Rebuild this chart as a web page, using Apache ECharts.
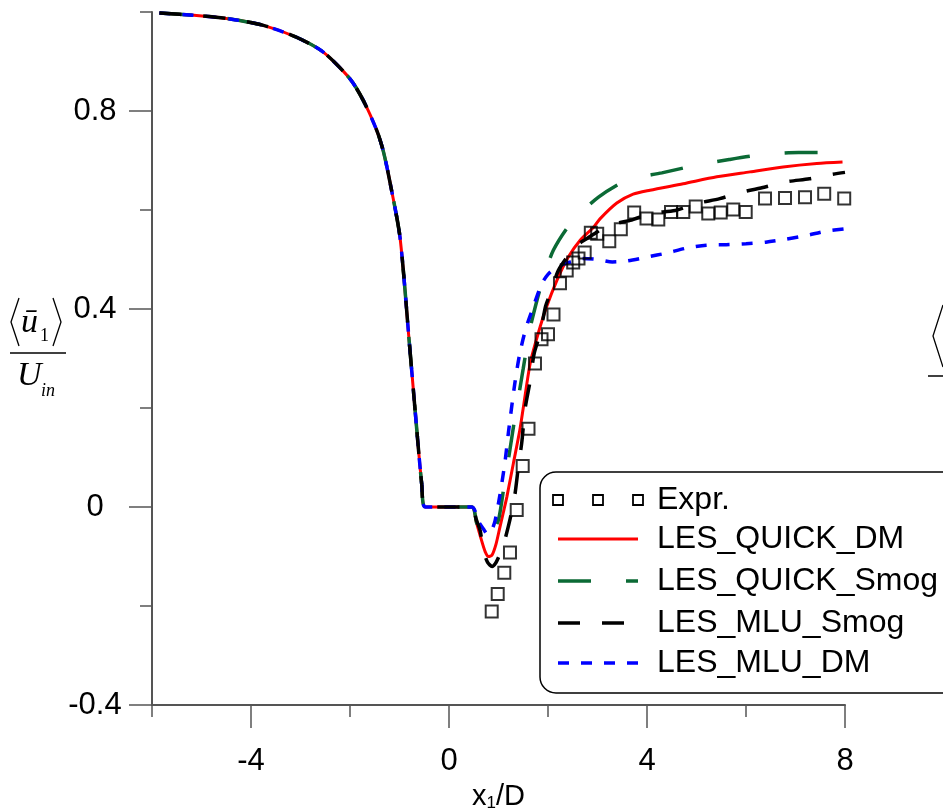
<!DOCTYPE html>
<html>
<head>
<meta charset="utf-8">
<script src="https://cdn.jsdelivr.net/npm/echarts@6/dist/echarts.min.js"></script>
<style>
html,body{margin:0;padding:0;background:#fff;}
#chart{width:943px;height:812px;}
</style>
</head>
<body>
<div id="chart"></div>
<script>
// ---- data ----
// shared upstream part (all LES runs coincide)
const upX = [-5.85,-5.1,-4.42,-3.75,-3.08,-2.54,-2.0,-1.73,-1.46,-1.33,-1.2,-0.99,-0.8,-0.65,-0.55,-0.48,0.46];
const upY = [0.998,0.993,0.986,0.973,0.949,0.919,0.865,0.821,0.761,0.72,0.66,0.545,0.33,0.155,0.045,0.0,0.0];

const quickDmX = [0.55,0.65,0.73,0.8,0.87,0.95,1.03,1.1,1.17,1.3,1.43,1.5,1.64,1.8,1.97,2.18,2.41,2.65,2.92,3.05,3.39,3.72,4.06,4.73,5.41,6.08,6.75,7.43,7.95];
const quickDmY = [-0.03,-0.065,-0.09,-0.1,-0.097,-0.075,-0.04,-0.01,0.021,0.088,0.155,0.2,0.29,0.35,0.404,0.458,0.505,0.539,0.565,0.582,0.614,0.632,0.64,0.653,0.667,0.677,0.687,0.694,0.697];

const quickSmogX = [0.56,0.69,0.78,0.88,1.0,1.1,1.23,1.33,1.4,1.5,1.6,1.67,1.87,2.11,2.48,3.02,3.59,4.3,4.97,5.66,6.35,7.06,7.74,8.0];
const quickSmogY = [-0.033,-0.06,-0.062,-0.05,-0.026,0.034,0.115,0.18,0.22,0.28,0.34,0.375,0.451,0.519,0.576,0.626,0.66,0.675,0.69,0.702,0.712,0.716,0.716,0.716];

const mluSmogX = [0.55,0.63,0.7,0.78,0.87,0.95,1.03,1.1,1.23,1.33,1.4,1.47,1.54,1.64,1.72,1.84,1.95,2.04,2.21,2.44,2.6,2.78,3.0,3.19,3.66,4.06,4.57,5.0,5.47,5.91,6.37,6.82,7.28,7.73,8.0];
const mluSmogY = [-0.025,-0.048,-0.09,-0.112,-0.12,-0.112,-0.095,-0.077,-0.026,0.024,0.08,0.13,0.2,0.255,0.31,0.35,0.405,0.43,0.478,0.512,0.53,0.542,0.556,0.569,0.579,0.593,0.599,0.613,0.623,0.636,0.646,0.657,0.663,0.672,0.676];

const mluDmX = [0.6,0.7,0.78,0.85,0.93,1.03,1.13,1.2,1.33,1.43,1.55,1.67,1.87,2.0,2.18,2.45,2.7,3.0,3.3,3.6,4.0,4.4,4.8,5.2,5.6,6.0,6.4,6.8,7.2,7.6,8.0];
const mluDmY = [-0.03,-0.045,-0.055,-0.05,-0.028,0.025,0.09,0.15,0.25,0.31,0.36,0.395,0.45,0.47,0.485,0.495,0.502,0.5,0.495,0.497,0.505,0.513,0.523,0.529,0.53,0.532,0.535,0.541,0.548,0.557,0.562];

const exprX = [0.863,0.984,1.117,1.232,1.368,1.489,1.606,1.737,1.869,2.0,2.111,2.242,2.378,2.509,2.616,2.741,2.865,2.994,3.238,3.471,3.741,3.99,4.228,4.485,4.733,4.984,5.238,5.489,5.743,5.994,6.384,6.788,7.192,7.58,7.984];
const exprY = [-0.211,-0.176,-0.133,-0.092,-0.006,0.083,0.158,0.29,0.339,0.349,0.389,0.452,0.478,0.494,0.502,0.514,0.554,0.552,0.537,0.561,0.595,0.583,0.581,0.596,0.596,0.607,0.593,0.595,0.601,0.596,0.623,0.624,0.626,0.633,0.623];

const xMajorTicks = [-4, 0, 4, 8];
const xMinorTicks = [-6, -2, 2, 6];
const yMajorTicks = [-0.4, 0, 0.4, 0.8];
const yMinorTicks = [-0.2, 0.2, 0.6, 1.0];

const seriesNames = ['Expr.', 'LES_QUICK_DM', 'LES_QUICK_Smog', 'LES_MLU_Smog', 'LES_MLU_DM'];

// ---- build ----
function pairs(xs, ys) { return xs.map((x, i) => [x, ys[i]]); }
function withUp(xs, ys) { return pairs(upX, upY).concat(pairs(xs, ys)); }

const FONT = 'Liberation Sans, Arial, sans-serif';
const SERIF = 'Liberation Serif, Times New Roman, serif';
const axisCol = '#555';

const chart = echarts.init(document.getElementById('chart'), null, {renderer: 'canvas'});

const lineBase = { type: 'line', showSymbol: false, symbol: 'none', smooth: 0.25, animation: false, xAxisIndex: 0, yAxisIndex: 0 };

const legendRows = [
  {y: 500, kind: 'sq'},
  {y: 539, color: '#ff0000', dash: null, w: 3},
  {y: 581, color: '#0b6a35', dash: [33, 35], w: 3.5},
  {y: 623, color: '#000000', dash: [22, 22], w: 3.5},
  {y: 663, color: '#0000ff', dash: [11, 12], w: 3.5}
];
const legendGraphics = [{
  type: 'rect', shape: {x: 540, y: 472, width: 430, height: 221, r: 16},
  style: {fill: '#fff', stroke: '#000', lineWidth: 1.5}, z: 100
}];
legendRows.forEach((r, i) => {
  if (r.kind === 'sq') {
    [558, 598, 638].forEach(cx => legendGraphics.push({
      type: 'rect', shape: {x: cx - 5, y: r.y - 5, width: 10, height: 10},
      style: {fill: 'none', stroke: '#000', lineWidth: 1.8}, z: 101
    }));
  } else {
    legendGraphics.push({
      type: 'line', shape: {x1: 558, y1: r.y, x2: 638, y2: r.y},
      style: {stroke: r.color, lineWidth: r.w, lineDash: r.dash || null}, z: 101
    });
  }
  legendGraphics.push({
    type: 'text', x: 657, y: r.y, z: 101,
    style: {text: seriesNames[i], font: '32px ' + FONT, fill: '#000', textVerticalAlign: 'middle', textAlign: 'left'}
  });
});

// y-axis fraction label
const yLabel = [
  {type: 'polyline', shape: {points: [[19, 298], [11, 322], [19, 346]]}, style: {stroke: '#000', lineWidth: 1.3, fill: 'none'}},
  {type: 'text', x: 21, y: 340, style: {text: 'ū', font: 'italic 34px ' + SERIF, fill: '#000', textVerticalAlign: 'bottom'}},
  {type: 'text', x: 40, y: 345, style: {text: '1', font: '18px ' + SERIF, fill: '#000', textVerticalAlign: 'bottom'}},
  {type: 'polyline', shape: {points: [[53, 298], [61, 322], [53, 346]]}, style: {stroke: '#000', lineWidth: 1.3, fill: 'none'}},
  {type: 'line', shape: {x1: 10, y1: 353, x2: 66, y2: 353}, style: {stroke: '#000', lineWidth: 1.5}},
  {type: 'text', x: 17, y: 393, style: {text: 'U', font: 'italic 34px ' + SERIF, fill: '#000', textVerticalAlign: 'bottom'}},
  {type: 'text', x: 41, y: 400, style: {text: 'in', font: 'italic 18px ' + SERIF, fill: '#000', textVerticalAlign: 'bottom'}},
  // clipped fragment of the neighbouring panel's axis label
  {type: 'polyline', shape: {points: [[943, 305], [933, 336], [943, 367]]}, style: {stroke: '#000', lineWidth: 1.3, fill: 'none'}},
  {type: 'line', shape: {x1: 928, y1: 376, x2: 943, y2: 376}, style: {stroke: '#000', lineWidth: 1.5}}
];

const option = {
  animation: false,
  backgroundColor: '#fff',
  grid: {left: 152, right: 98, top: 12, bottom: 107, containLabel: false, outerBoundsMode: 'none'},
  xAxis: [{
    type: 'value', min: -6, max: 8, position: 'bottom',
    axisLine: {show: true, onZero: false, lineStyle: {color: axisCol, width: 2}},
    axisTick: {show: true, customValues: xMajorTicks, length: 23, lineStyle: {color: axisCol, width: 1.5}},
    axisLabel: {show: true, customValues: xMajorTicks, margin: 41, fontSize: 31, fontFamily: FONT, color: '#000'},
    splitLine: {show: false},
    name: '{a|x}{s|1}{a|/D}', nameLocation: 'middle', nameGap: 76,
    nameTextStyle: {rich: {
      a: {fontSize: 29, fontFamily: FONT, color: '#000'},
      s: {fontSize: 17, fontFamily: FONT, color: '#000', verticalAlign: 'bottom', padding: [14, 0, 0, 0]}
    }}
  }, {
    type: 'value', min: -6, max: 8, position: 'bottom',
    axisLine: {show: false, onZero: false},
    axisTick: {show: true, customValues: xMinorTicks, length: 12, lineStyle: {color: axisCol, width: 1.5}},
    axisLabel: {show: false},
    splitLine: {show: false}
  }],
  yAxis: [{
    type: 'value', min: -0.4, max: 1.0, position: 'left',
    axisLine: {show: true, onZero: false, lineStyle: {color: axisCol, width: 2}},
    axisTick: {show: true, customValues: yMajorTicks, length: 23, lineStyle: {color: axisCol, width: 1.5}},
    axisLabel: {show: true, customValues: yMajorTicks, margin: 57, align: 'center', fontSize: 31, fontFamily: FONT, color: '#000',
      formatter: v => (Math.abs(v) < 1e-9 ? '0' : String(Math.round(v * 10) / 10))},
    splitLine: {show: false}
  }, {
    type: 'value', min: -0.4, max: 1.0, position: 'left',
    axisLine: {show: false, onZero: false},
    axisTick: {show: true, customValues: yMinorTicks, length: 12, lineStyle: {color: axisCol, width: 1.5}},
    axisLabel: {show: false},
    splitLine: {show: false}
  }],
  series: [
    Object.assign({}, lineBase, {name: seriesNames[1], data: withUp(quickDmX, quickDmY), z: 2,
      lineStyle: {color: '#ff0000', width: 3}}),
    Object.assign({}, lineBase, {name: seriesNames[2], data: withUp(quickSmogX, quickSmogY), z: 3,
      lineStyle: {color: '#0b6a35', width: 3.5, type: [33, 35]}}),
    Object.assign({}, lineBase, {name: seriesNames[4], data: withUp(mluDmX, mluDmY), z: 4,
      lineStyle: {color: '#0000ff', width: 3.5, type: [11, 12]}}),
    Object.assign({}, lineBase, {name: seriesNames[3], data: withUp(mluSmogX, mluSmogY), z: 5,
      lineStyle: {color: '#000000', width: 3.5, type: [22, 22]}}),
    {type: 'scatter', name: seriesNames[0], data: pairs(exprX, exprY), symbol: 'rect', symbolSize: 12, z: 6,
      itemStyle: {color: 'rgba(255,255,255,0)', borderColor: '#000', borderWidth: 2}, animation: false}
  ],
  graphic: legendGraphics.concat(yLabel)
};
chart.setOption(option);
</script>
</body>
</html>
